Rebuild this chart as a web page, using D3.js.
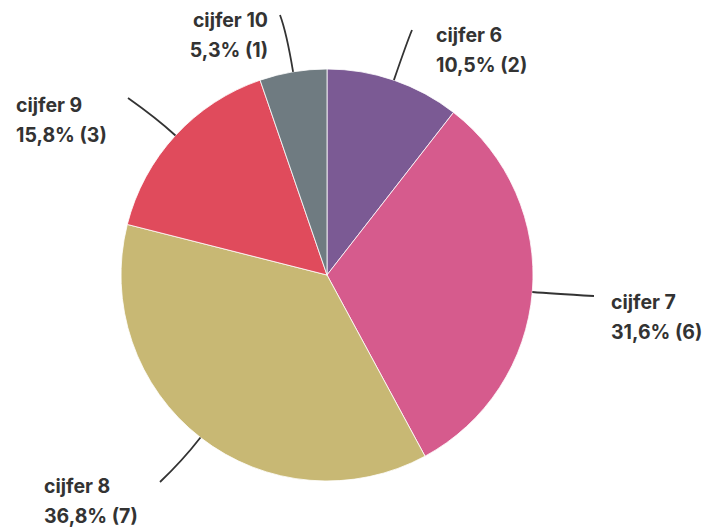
<!DOCTYPE html>
<html>
<head>
<meta charset="utf-8">
<script src="https://d3js.org/d3.v7.min.js"></script>
<style>
  body { margin: 0; background: #fff; }
  text { font-family: Inter, "Noto Sans", sans-serif; font-weight: 700; fill: #333; }
</style>
</head>
<body>
<script>
const categories = ["cijfer 6", "cijfer 7", "cijfer 8", "cijfer 9", "cijfer 10"];
const counts = [2, 6, 7, 3, 1];
const colors = ["#7b5a94", "#d65b8d", "#c8b874", "#e04b5c", "#6f7b81"];

// label layout: radial extension of the leader bend, leader end (relative to centre),
// text anchor position (relative to centre) and alignment
const leaderExt = [40, 18, 30, 25, 40];
const leaderEnd = [[85, -245], [267, 21], [-167, 207], [-199, -177], [-47, -260]];
const labelPos = [[109, -233], [284, 34], [-283, 218], [-311, -163], [-59, -248]];
const labelAnchor = ["start", "start", "start", "start", "end"];

const width = 709, height = 528;
const cx = 327, cy = 275, radius = 206;

const total = d3.sum(counts);
const data = categories.map((c, i) => ({cat: c, value: counts[i], i}));

const svg = d3.select("body").append("svg")
    .attr("width", width)
    .attr("height", height);

const g = svg.append("g").attr("transform", `translate(${cx},${cy})`);

const pie = d3.pie().sort(null).value(d => d.value);
const arc = d3.arc().innerRadius(0).outerRadius(radius);
const arcs = pie(data);

g.selectAll("path.slice")
  .data(arcs)
  .join("path")
    .attr("class", "slice")
    .attr("fill", d => colors[d.data.i])
    .attr("stroke", "#fff")
    .attr("stroke-width", 0.8)
    .attr("d", arc);

const polar = (a, r) => [r * Math.sin(a), -r * Math.cos(a)];

g.selectAll("path.leader")
  .data(arcs)
  .join("path")
    .attr("class", "leader")
    .attr("fill", "none")
    .attr("stroke", "#333")
    .attr("stroke-width", 1.8)
    .attr("d", d => {
      const a = (d.startAngle + d.endAngle) / 2;
      const p0 = polar(a, radius);
      const p1 = polar(a, radius + leaderExt[d.data.i]);
      const p2 = leaderEnd[d.data.i];
      const p = d3.path();
      p.moveTo(p0[0], p0[1]);
      p.quadraticCurveTo(p1[0], p1[1], p2[0], p2[1]);
      return p.toString();
    });

const fmt = v => (v / total * 100).toFixed(1).replace(".", ",") + "% (" + v + ")";

const labels = g.selectAll("text.label")
  .data(arcs)
  .join("text")
    .attr("class", "label")
    .attr("text-anchor", d => labelAnchor[d.data.i])
    .attr("font-size", 19.5)
    .attr("x", d => labelPos[d.data.i][0])
    .attr("y", d => labelPos[d.data.i][1]);

labels.append("tspan")
    .attr("x", d => labelPos[d.data.i][0])
    .text(d => d.data.cat);
labels.append("tspan")
    .attr("x", d => labelPos[d.data.i][0])
    .attr("dy", 30)
    .text(d => fmt(d.data.value));
</script>
</body>
</html>
